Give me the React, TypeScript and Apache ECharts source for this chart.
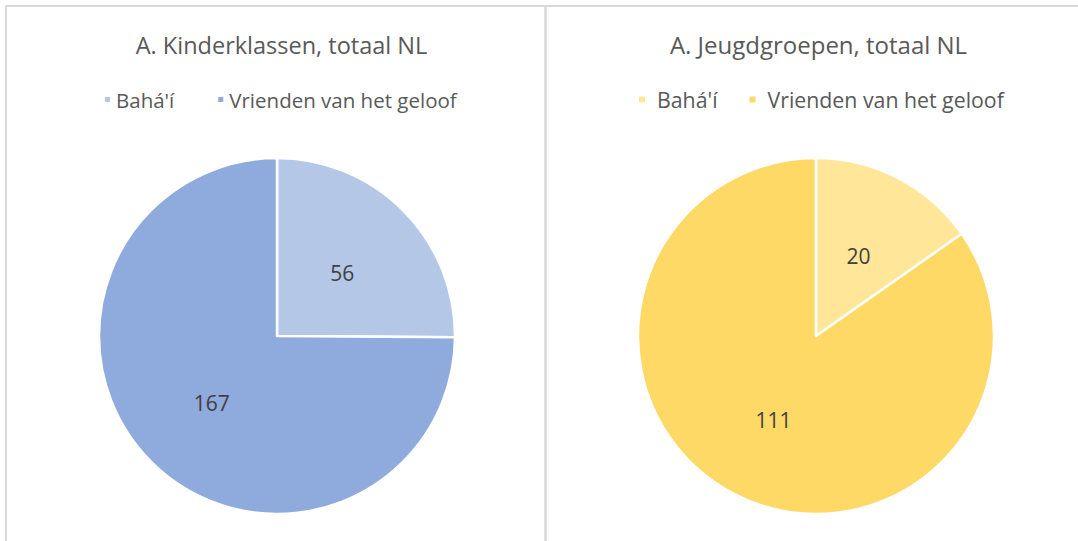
import React, { useEffect, useRef } from "react";
import * as echarts from "echarts";

const categories = ["Bahá'í", "Vrienden van het geloof"];
const kinderValues = [56, 167];
const jeugdValues = [20, 111];
const titles = ["A. Kinderklassen, totaal NL", "A. Jeugdgroepen, totaal NL"];
const kinderColors = ["#b4c7e7", "#8faadc"];
const jeugdColors = ["#ffe699", "#ffd966"];

const FONT = "'Open Sans', 'Noto Sans', sans-serif";

export default function App() {
  const ref = useRef<HTMLDivElement>(null);
  useEffect(() => {
    document.body.style.margin = "0";
    const chart = echarts.init(ref.current!, null, { renderer: "svg" });
    const pieSeries = (values: number[], colors: string[], cx: number) => ({
      type: "pie",
      center: [cx, 336],
      radius: 178,
      startAngle: 90,
      clockwise: true,
      silent: true,
      itemStyle: { borderColor: "#ffffff", borderWidth: 2.5 },
      label: {
        show: true,
        position: "inside",
        formatter: "{c}",
        fontFamily: FONT,
        fontSize: 21,
        color: "#404040",
        offset: [0, 2],
      },
      labelLine: { show: false },
      emphasis: { disabled: true },
      data: categories.map((name, i) => ({
        name,
        value: values[i],
        itemStyle: { color: colors[i] },
      })),
    });
    const legend = (
      colors: string[],
      left: number,
      fontSize: number,
      icon: number,
      gap: number,
      textPad: number
    ) => ({
      left,
      top: 89,
      padding: 0,
      icon: "rect",
      itemWidth: icon,
      itemHeight: icon,
      itemGap: gap,
      selectedMode: false,
      textStyle: { fontFamily: FONT, fontSize, color: "#595959", padding: [0, 0, 0, textPad] },
      data: categories.map((name, i) => ({
        name,
        itemStyle: { color: colors[i] },
      })),
    });
    const titleStyle = (fontSize: number) => ({
      fontFamily: FONT,
      fontSize,
      fontWeight: "normal",
      color: "#595959",
    });
    chart.setOption({
      animation: false,
      backgroundColor: "#ffffff",
      title: [
        { text: titles[0], left: 276.5, top: 28, textAlign: "center", textStyle: titleStyle(23.5) },
        { text: titles[1], left: 813.5, top: 27, textAlign: "center", textStyle: titleStyle(24) },
      ],
      legend: [
        legend(kinderColors, 103, 20.5, 7, 42, 0),
        legend(jeugdColors, 637, 21.3, 8, 30, 6),
      ],
      graphic: [
        { type: "line", shape: { x1: 5, y1: 6, x2: 1078, y2: 6 }, style: { stroke: "#d9d9d9", lineWidth: 2 } },
        { type: "line", shape: { x1: 6, y1: 6, x2: 6, y2: 541 }, style: { stroke: "#d9d9d9", lineWidth: 2 } },
        { type: "line", shape: { x1: 545.5, y1: 6, x2: 545.5, y2: 541 }, style: { stroke: "#d9d9d9", lineWidth: 2.5 } },
      ],
      series: [
        pieSeries(kinderValues, kinderColors, 277),
        pieSeries(jeugdValues, jeugdColors, 816),
      ],
    });
    return () => chart.dispose();
  }, []);
  return <div ref={ref} style={{ width: 1078, height: 541 }} />;
}
